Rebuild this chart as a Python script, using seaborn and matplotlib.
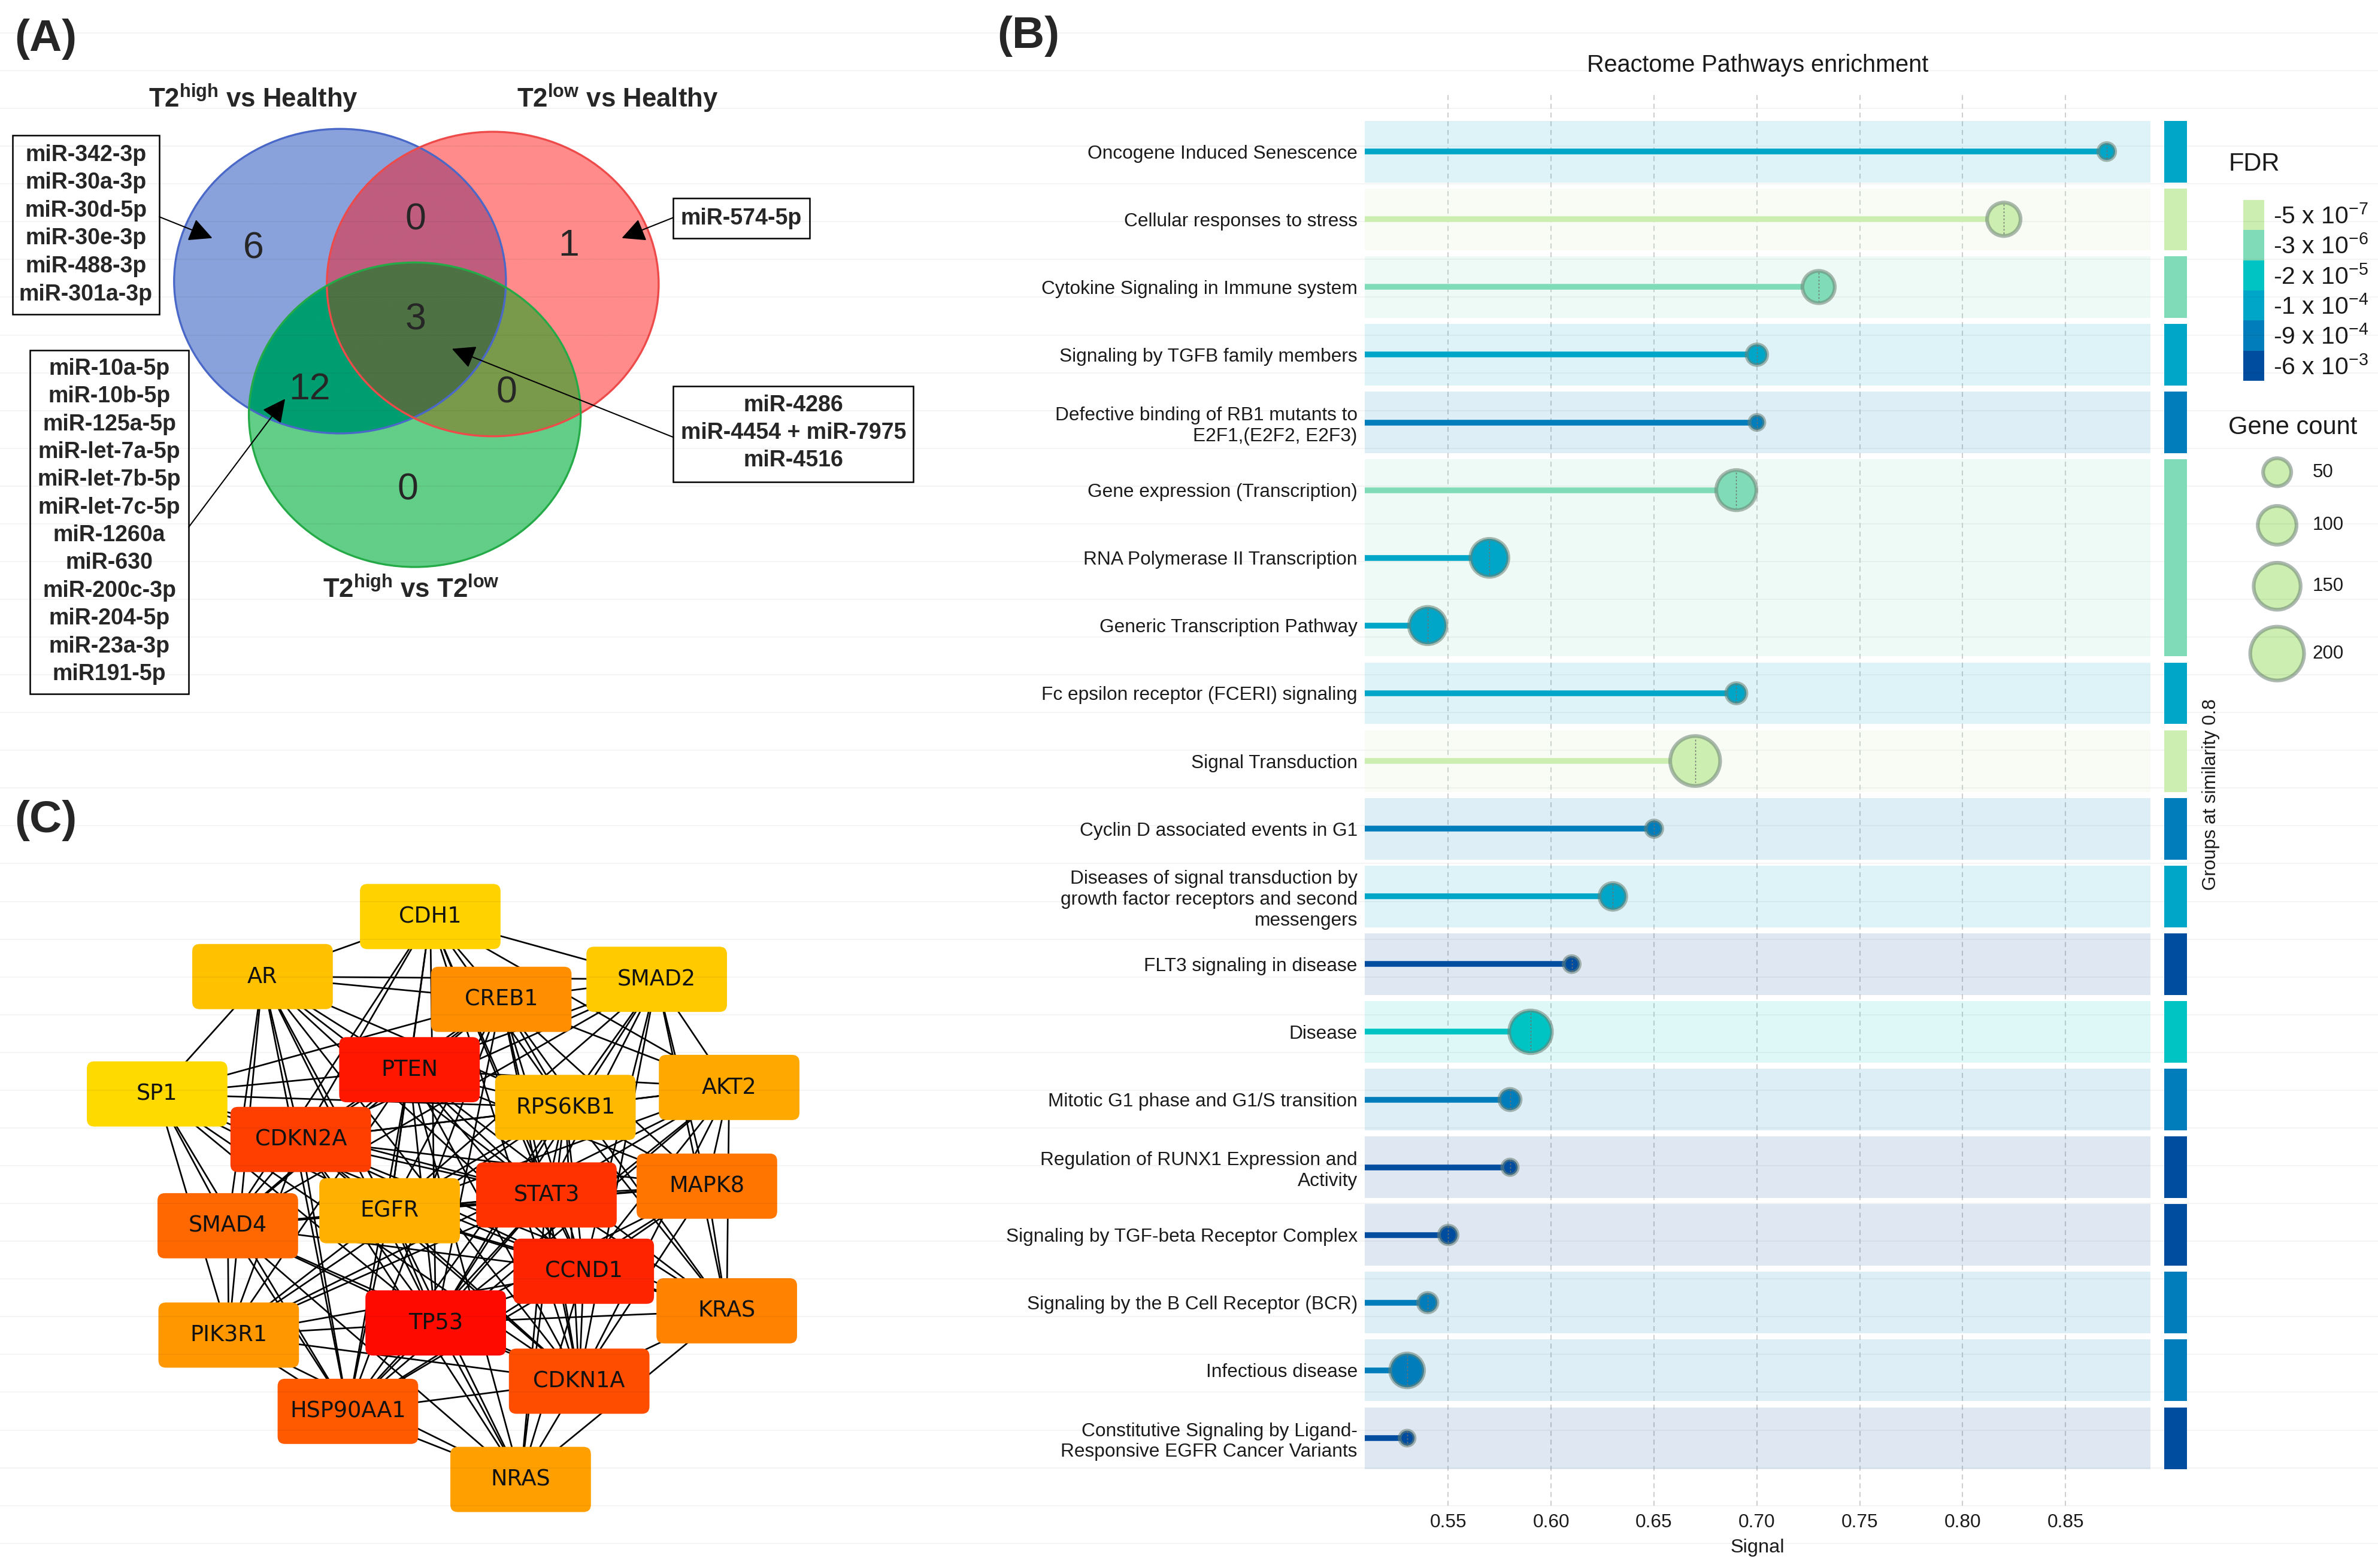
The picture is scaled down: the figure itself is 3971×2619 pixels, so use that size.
import numpy as np
import pandas as pd
import matplotlib
matplotlib.use("Agg")
import matplotlib.pyplot as plt
import seaborn as sns
from matplotlib.patches import Ellipse, Rectangle, FancyBboxPatch
from matplotlib.colors import to_rgba, LinearSegmentedColormap
from matplotlib.collections import LineCollection

# ---------------- datos ----------------
# (B) Reactome
pathways = [
    "Oncogene Induced Senescence",
    "Cellular responses to stress",
    "Cytokine Signaling in Immune system",
    "Signaling by TGFB family members",
    "Defective binding of RB1 mutants to\nE2F1,(E2F2, E2F3)",
    "Gene expression (Transcription)",
    "RNA Polymerase II Transcription",
    "Generic Transcription Pathway",
    "Fc epsilon receptor (FCERI) signaling",
    "Signal Transduction",
    "Cyclin D associated events in G1",
    "Diseases of signal transduction by\ngrowth factor receptors and second\nmessengers",
    "FLT3 signaling in disease",
    "Disease",
    "Mitotic G1 phase and G1/S transition",
    "Regulation of RUNX1 Expression and\nActivity",
    "Signaling by TGF-beta Receptor Complex",
    "Signaling by the B Cell Receptor (BCR)",
    "Infectious disease",
    "Constitutive Signaling by Ligand-\nResponsive EGFR Cancer Variants",
]
signal = [0.87, 0.82, 0.73, 0.70, 0.70, 0.69, 0.57, 0.54, 0.69, 0.67,
          0.65, 0.63, 0.61, 0.59, 0.58, 0.58, 0.55, 0.54, 0.53, 0.53]
gene_count = [16, 73, 68, 25, 12, 108, 96, 92, 24, 171,
              15, 45, 14, 123, 27, 13, 20, 22, 75, 12]
fdr = [1e-4, 5e-7, 3e-6, 1e-4, 9e-4, 3e-6, 1e-4, 1e-4, 1e-4, 5e-7,
       9e-4, 1e-4, 6e-3, 2e-5, 9e-4, 6e-3, 6e-3, 9e-4, 9e-4, 6e-3]
group = [1, 2, 3, 4, 5, 6, 6, 6, 7, 8, 9, 10, 11, 12, 13, 14, 15, 16, 17, 18]
fdr_levels = [5e-7, 3e-6, 2e-5, 1e-4, 9e-4, 6e-3]
legend_counts = [50, 100, 150, 200]
xticks = [0.55, 0.60, 0.65, 0.70, 0.75, 0.80, 0.85]

# (A) Venn
venn_titles = [r"T2$^{high}$ vs Healthy", r"T2$^{low}$ vs Healthy", r"T2$^{high}$ vs T2$^{low}$"]
venn_counts = [6, 0, 1, 3, 12, 0, 0]  # alto, alto+bajo, bajo, los tres, alto+T2, bajo+T2, T2
box_high = ["miR-342-3p", "miR-30a-3p", "miR-30d-5p", "miR-30e-3p", "miR-488-3p", "miR-301a-3p"]
box_low = ["miR-574-5p"]
box_all = ["miR-4286", "miR-4454 + miR-7975", "miR-4516"]
box_high_t2 = ["miR-10a-5p", "miR-10b-5p", "miR-125a-5p", "miR-let-7a-5p", "miR-let-7b-5p",
               "miR-let-7c-5p", "miR-1260a", "miR-630", "miR-200c-3p", "miR-204-5p",
               "miR-23a-3p", "miR191-5p"]

# (C) red de genes
genes = ["CDH1", "AR", "SMAD2", "CREB1", "PTEN", "SP1", "AKT2", "RPS6KB1", "CDKN2A", "MAPK8",
         "STAT3", "EGFR", "SMAD4", "CCND1", "KRAS", "TP53", "PIK3R1", "CDKN1A", "HSP90AA1", "NRAS"]
hub_rank = [19, 17, 18, 11, 2, 20, 14, 16, 5, 9, 4, 15, 8, 3, 10, 1, 12, 6, 7, 13]
non_edges = [("CDH1", "NRAS"), ("CDH1", "KRAS"), ("CDH1", "PIK3R1"), ("CDH1", "HSP90AA1"),
             ("CDH1", "MAPK8"), ("SP1", "KRAS"), ("SP1", "MAPK8"), ("SP1", "AKT2"),
             ("SP1", "NRAS"), ("SP1", "SMAD2"), ("SP1", "CDH1"), ("AR", "KRAS"), ("AR", "NRAS"),
             ("AR", "MAPK8"), ("AR", "AKT2"), ("SMAD2", "PIK3R1"), ("SMAD2", "NRAS"),
             ("SMAD2", "HSP90AA1"), ("AKT2", "SMAD4"), ("PIK3R1", "MAPK8"), ("KRAS", "SMAD4"),
             ("KRAS", "HSP90AA1"), ("CREB1", "NRAS"), ("CREB1", "PIK3R1"), ("RPS6KB1", "SMAD4"),
             ("NRAS", "AKT2"), ("NRAS", "MAPK8"), ("KRAS", "PIK3R1")]

# ---------------- estilo ----------------
sns.set_theme(style="white")
plt.rcParams["font.family"] = ["Liberation Sans", "DejaVu Sans"]
plt.rcParams["mathtext.default"] = "regular"

W, H = 1568, 1034          # unidades de maquetacion
fig = plt.figure(figsize=(3971 / 300, 2619 / 300), dpi=300)
PT = fig.get_figwidth() * 72 / W   # puntos por unidad

ax0 = fig.add_axes([0, 0, 1, 1])
ax0.axis("off")

for txt, (x, y) in zip(["(A)", "(B)", "(C)"], [(30, 26), (678, 24), (30, 541)]):
    ax0.text(x, y, txt, fontsize=18, weight="bold", ha="center", va="center")

# ---------------- (A) Venn ----------------
cents = [(224.2, 185.4), (324.9, 187.3), (273.5, 273.5)]
rx, ry = 109.4, 100.4
xs = np.linspace(100, 450, 1400)
ys = np.linspace(75, 385, 1240)
X, Y = np.meshgrid(xs, ys)
code = np.zeros(X.shape, dtype=int)
for k, (cx, cy) in enumerate(cents):
    code += (((X - cx) / rx) ** 2 + ((Y - cy) / ry) ** 2 <= 1).astype(int) << k
region_col = {1: "#8AA2DC", 2: "#FF8B8B", 4: "#62CE87", 3: "#C05D7E",
              5: "#009E70", 6: "#7A9A4B", 7: "#4E7244"}
img = np.zeros(X.shape + (4,))
for k, c in region_col.items():
    img[code == k] = to_rgba(c)
ax0.imshow(img, extent=(100, 450, 385, 75), origin="upper", aspect="auto", zorder=1)
for (cx, cy), ec in zip(cents, ["#4A68C8", "#EE4A4A", "#25AA48"]):
    ax0.add_patch(Ellipse((cx, cy), 2 * rx, 2 * ry, fill=False, ec=ec, lw=0.8, zorder=2))

count_pos = [(167, 164), (274, 145), (375, 162), (274, 211), (204, 257), (334, 259), (269, 323)]
for n, (x, y) in zip(venn_counts, count_pos):
    ax0.text(x, y, str(n), fontsize=15, ha="center", va="center", zorder=3)
for t, (x, y) in zip(venn_titles, [(167, 65), (407, 65), (271, 389)]):
    ax0.text(x, y, t, fontsize=10.5, weight="bold", ha="center", va="center")


def caja(lines, x0, y0, x1, y1, y_first, step, tip, start):
    ax0.add_patch(Rectangle((x0, y0), x1 - x0, y1 - y0, fill=False, ec="black", lw=0.6, zorder=3))
    for i, s in enumerate(lines):
        ax0.text((x0 + x1) / 2, y_first + i * step, s, fontsize=9, weight="bold",
                 ha="center", va="center", zorder=3)
    ax0.annotate("", xy=tip, xytext=start, zorder=4,
                 arrowprops=dict(arrowstyle="-|>,head_length=0.5,head_width=0.25",
                                 color="black", lw=0.5, mutation_scale=16,
                                 shrinkA=0, shrinkB=0))


caja(box_high, 8.1, 89.4, 105.1, 207.3, 102.1, 18.4, (140, 157), (105.1, 143))
caja(box_low, 443.9, 130.8, 533.8, 157.1, 144, 0, (410, 157), (443.9, 143.5))
caja(box_all, 443.9, 254.7, 602.3, 317.9, 267.4, 18.1, (298, 230), (443.9, 288.3))
caja(box_high_t2, 19.7, 230.8, 124.5, 457.7, 243.2, 18.3, (188, 263), (124.5, 347.5))

# ---------------- (C) red ----------------
node_x = [283.7, 173.1, 433.0, 330.5, 270.0, 103.6, 480.8, 372.8, 198.3, 466.1,
          360.3, 256.9, 150.2, 384.9, 479.2, 287.3, 150.8, 381.9, 229.4, 343.3]
node_y = [604.4, 644.0, 645.8, 659.0, 705.4, 721.4, 717.1, 730.3, 751.4, 782.2,
          788.0, 798.4, 808.3, 838.3, 864.4, 872.4, 880.4, 910.8, 930.7, 975.6]
pos = dict(zip(genes, zip(node_x, node_y)))
missing = {frozenset(p) for p in non_edges}
segs = [[pos[a], pos[b]] for i, a in enumerate(genes) for b in genes[i + 1:]
        if frozenset((a, b)) not in missing]
ax0.add_collection(LineCollection(segs, colors="black", linewidths=0.65, zorder=2))
hub_cmap = LinearSegmentedColormap.from_list("hub", ["#FF0A00", "#FF8A00", "#FFDA00"])
bw, bh = 92.7, 43
for g, r in zip(genes, hub_rank):
    x, y = pos[g]
    ax0.add_patch(FancyBboxPatch((x - bw / 2, y - bh / 2), bw, bh,
                                 boxstyle="round,pad=0,rounding_size=5",
                                 fc=hub_cmap((r - 1) / 19), ec="none", zorder=3))
    ax0.text(x, y, g, fontsize=8.8, family="DejaVu Sans", color="#111111",
             ha="center", va="center", zorder=4)

# lineas tenues de fondo
ax0.hlines(21.7 + 24.9 * np.arange(42), 0, W, color="black", alpha=0.05, lw=0.4, zorder=10)
ax0.set_xlim(0, W)
ax0.set_ylim(H, 0)

# ---------------- (B) Reactome ----------------
df = pd.DataFrame({"pathway": pathways, "signal": signal, "count": gene_count,
                   "fdr": fdr, "group": group})
df["pos"] = np.arange(len(df))
fdr_colors = ["#CCEFB1", "#80DCB8", "#00C4C4", "#00A6C8", "#007DBA", "#004DA0"]
palette = dict(zip(fdr_levels, fdr_colors))


def diam_px(c):
    return 2.4 * np.sqrt(c) + 4


ring = 1.5
size_map = {c: (diam_px(c) * PT - ring) ** 2 for c in set(gene_count) | set(legend_counts)}
ring_col = (0.42, 0.50, 0.45, 0.55)

x_lo, x_hi = 0.5095, 0.8913
ax = fig.add_axes([900 / W, 1 - 993 / H, 518 / W, (993 - 62) / H])
ax.set_facecolor("none")
row_px = 44.63

for gid, sub in df.groupby("group"):
    top, bot = sub.pos.min(), sub.pos.max()
    col = palette[sub.fdr.min()]
    ax.add_patch(Rectangle((x_lo, top - 0.455), x_hi - x_lo, bot - top + 0.91,
                           fc=col, alpha=0.13, ec="none", zorder=1))
    ax.add_patch(Rectangle((0.8979, top - 0.455), 0.0111, bot - top + 0.91,
                           fc=col, ec="none", clip_on=False, zorder=1))

ax.hlines(df.pos, x_lo, df.signal, colors=[palette[v] for v in df.fdr], lw=2.3, zorder=3)
sns.scatterplot(data=df, x="signal", y="pos", hue="fdr", palette=palette,
                size="count", sizes=size_map, edgecolor=ring_col, linewidth=ring,
                legend=False, ax=ax, zorder=4)
r_rows = diam_px(df["count"]) / 2 * 0.8 / row_px
ax.vlines(df.signal, df.pos - r_rows, df.pos + r_rows, colors="#707070",
          linestyles=(0, (2, 2)), lw=0.35, zorder=5)

ax.set_xlim(x_lo, x_hi)
ax.set_ylim(20.0, -0.85)
ax.set_xticks(xticks)
ax.set_xticklabels([f"{t:.2f}" for t in xticks])
ax.set_yticks(df.pos)
ax.set_yticklabels(df.pathway)
for lab in ax.get_yticklabels():
    lab.set_linespacing(1.2)
ax.tick_params(axis="both", length=0, labelsize=7.6, colors="#1a1a1a", pad=3)
ax.grid(axis="x", color="#CFCFCF", ls=(0, (4, 3)), lw=0.5)
ax.grid(axis="y", visible=False)
ax.set_axisbelow(True)
for sp in ax.spines.values():
    sp.set_visible(False)
ax.set_xlabel("Signal", fontsize=7.8, labelpad=3, color="#1a1a1a")
ax.set_ylabel("")
ax.set_title("Reactome Pathways enrichment", fontsize=9.5, pad=9, color="#1a1a1a")

ax0.text(1458, 524, "Groups at similarity 0.8", rotation=90, fontsize=7.5,
         ha="center", va="center", color="#1a1a1a")

# leyendas
ax0.text(1469.4, 108, "FDR", fontsize=10, ha="left", va="center", color="#1a1a1a")
blk = 19.9
for i, (lvl, col) in enumerate(zip(fdr_levels, fdr_colors)):
    y0 = 131.8 + i * blk
    ax0.add_patch(Rectangle((1479.3, y0), 13.8, blk, fc=col, ec="none", zorder=3))
    e = int(np.floor(np.log10(lvl) + 1e-9))
    m = int(round(lvl / 10 ** e))
    ax0.text(1499, y0 + blk / 2 + 1, f"-{m} x 10$^{{{e}}}$", fontsize=9.8,
             ha="left", va="center", color="#1a1a1a")

ax0.text(1469.4, 282, "Gene count", fontsize=10, ha="left", va="center", color="#1a1a1a")
leg_y = [311.4, 346.4, 386.6, 431.0]
ax0.scatter([1501.5] * len(legend_counts), leg_y, s=[size_map[c] for c in legend_counts],
            color=fdr_colors[0], edgecolor=ring_col, linewidth=ring, zorder=5)
for c, y in zip(legend_counts, leg_y):
    ax0.text(1524.7, y, str(c), fontsize=7.5, ha="left", va="center", color="#1a1a1a")

fig.savefig("out.png", dpi=300)
